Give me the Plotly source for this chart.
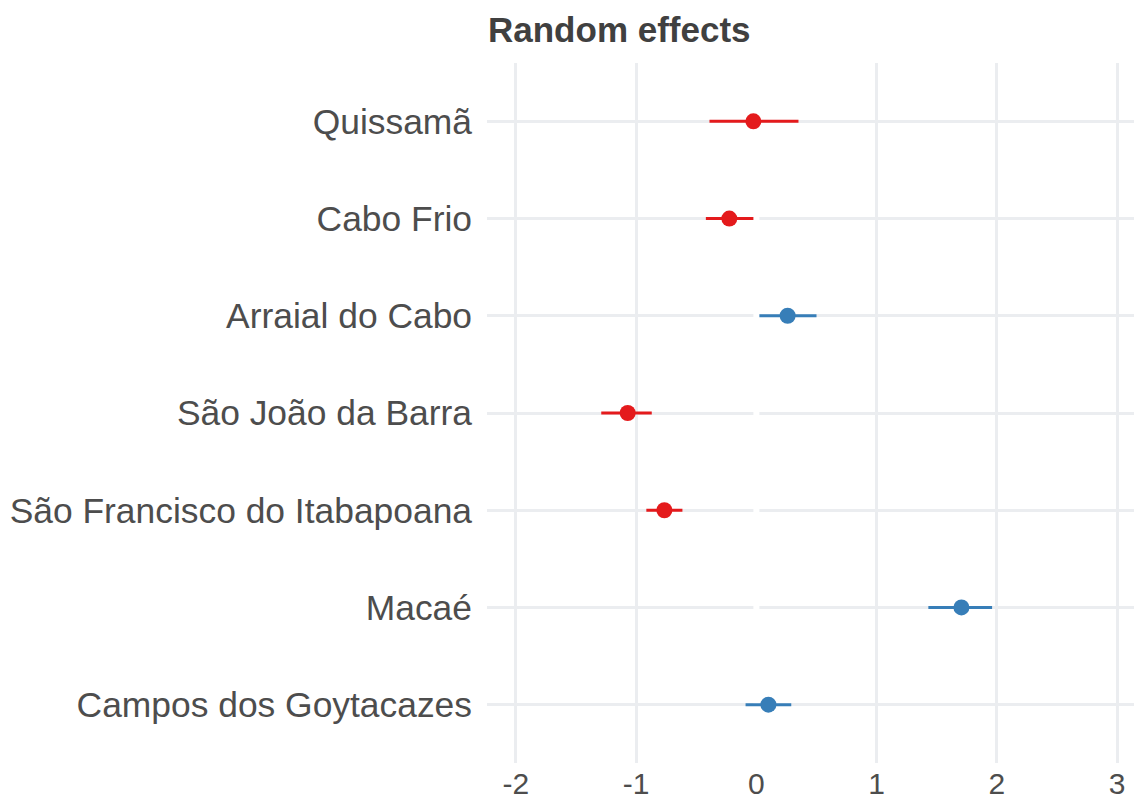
import plotly.graph_objects as go

categories = ["Campos dos Goytacazes", "Macaé", "São Francisco do Itabapoana",
              "São João da Barra", "Arraial do Cabo", "Cabo Frio", "Quissamã"]
estimate = [0.10, 1.705, -0.765, -1.07, 0.26, -0.225, -0.025]
ci_low = [-0.09, 1.43, -0.915, -1.29, 0.025, -0.42, -0.39]
ci_high = [0.29, 1.96, -0.615, -0.87, 0.50, -0.025, 0.35]
x_ticks = [-2, -1, 0, 1, 2, 3]
ref_line_x = 0

RED = "#E41A1C"
BLUE = "#377EB8"
colors = [BLUE if e > 0 else RED for e in estimate]
positions = list(range(len(categories)))
y_range = [-0.6, len(categories) - 1 + 0.6]

fig = go.Figure()
# white reference line at zero (drawn above the grid, below the points)
fig.add_trace(go.Scatter(
    x=[ref_line_x, ref_line_x], y=y_range, mode="lines",
    line=dict(color="white", width=6), hoverinfo="skip", showlegend=False,
))
for pos, est, lo, hi, col in zip(positions, estimate, ci_low, ci_high, colors):
    fig.add_trace(go.Scatter(
        x=[est], y=[pos], mode="markers",
        marker=dict(color=col, size=16),
        error_x=dict(type="data", symmetric=False, array=[hi - est], arrayminus=[est - lo],
                     color=col, thickness=3, width=0),
        showlegend=False,
    ))

fig.update_layout(
    width=1134, height=800,
    margin=dict(l=487, r=0, t=63, b=37),
    paper_bgcolor="white", plot_bgcolor="white",
    font=dict(family="Liberation Sans, Arial, sans-serif", color="#4D4D4D"),
    title=dict(text="<b>Random effects</b>", x=488/1134, xanchor="left", xref="container",
               y=1 - 30/800, yanchor="middle", yref="container",
               font=dict(size=35, color="#404040")),
    xaxis=dict(range=[-2.24, 3.14], tickvals=x_ticks, ticktext=[str(v) for v in x_ticks],
               showgrid=True, gridcolor="#EBEDF0", gridwidth=2.7, zeroline=False,
               showline=False, ticks="", automargin=False,
               tickfont=dict(size=30, color="#4D4D4D"), ticklabelstandoff=0),
    yaxis=dict(range=y_range, tickvals=positions, ticktext=categories,
               showgrid=True, gridcolor="#EBEDF0", gridwidth=2.7,
               zeroline=False, showline=False, ticks="", automargin=False,
               tickfont=dict(size=35.4, color="#4D4D4D"), ticklabelstandoff=14),
)

fig.write_html("out.html", config={"displayModeBar": False},
               post_script="document.body.style.margin='0';")
